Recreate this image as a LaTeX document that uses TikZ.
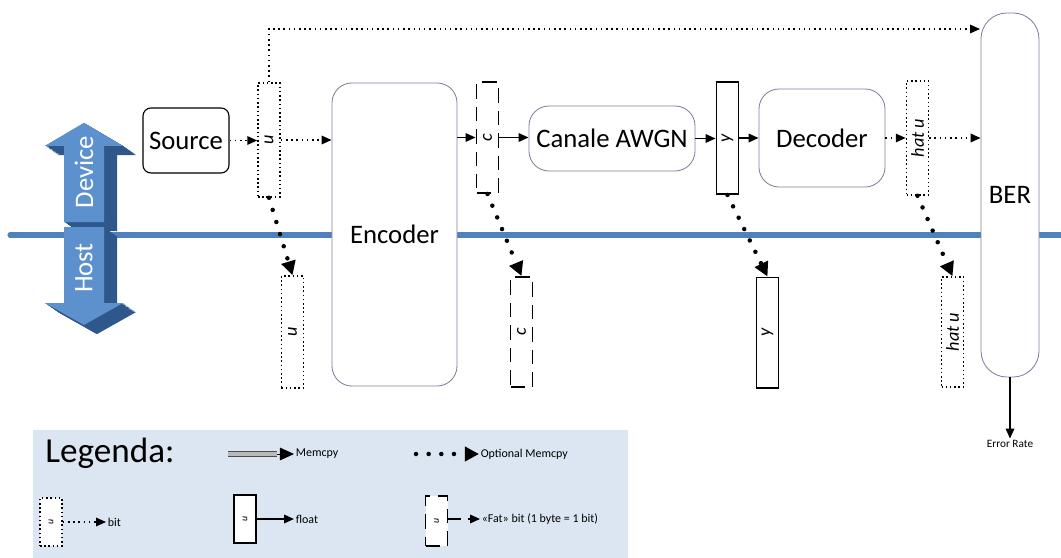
\documentclass[tikz,border=0pt]{standalone}
\usepackage{fontspec}
\setmainfont{Carlito}
\usepackage{graphicx}
\usetikzlibrary{arrows.meta,positioning}

\definecolor{lineblue}{RGB}{79,129,189}
\definecolor{arrowfront}{RGB}{93,145,206}
\definecolor{arrowdark}{RGB}{46,88,140}
\definecolor{boxgray}{RGB}{128,128,158}
\definecolor{legendbg}{RGB}{220,230,242}

\newcommand{\vlab}[1]{\rotatebox{90}{#1}}

\begin{document}
\begin{tikzpicture}[x=0.025cm,y=-0.025cm,>={Triangle[length=7pt,width=6pt]},
        semithick,
        blk/.style={draw=boxgray,fill=white,rounded corners=#1,inner sep=0pt,
          font=\fontsize{19}{22}\selectfont},
        bitbox/.style={draw,fill=white,line width=1.1pt,dash pattern=on 1.1pt off 1.9pt,
          minimum width=0.55cm,inner sep=0pt,font=\fontsize{13}{15}\selectfont\itshape},
        floatbox/.style={bitbox,solid,line width=1.4pt},
        fatbox/.style={bitbox,line width=1.4pt,dash pattern=on 10pt off 6pt},
        arr/.style={->,line width=1.2pt},
        dotarrow/.style={->,line width=1.1pt,dash pattern=on 1.1pt off 2.6pt},
        fatarrow/.style={->,line width=1.2pt,dash pattern=on 9pt off 5pt},
        optcopy/.style={-{Triangle[length=10pt,width=10pt]},line width=3.2pt,
          line cap=round,dash pattern=on 0pt off 9pt},
        memshaft/.style={draw=gray!60!black,double=gray!55,double distance=2.4pt,line width=0.7pt},
        small/.style={font=\fontsize{8.5}{10}\selectfont,inner sep=1pt}]
      \useasboundingbox (0,0) rectangle (1061,558);

      % device / host border
      \coordinate (hl) at (10,235);
      \coordinate (hr) at (1065,235);
      \draw[lineblue,line width=3.6pt,line cap=round] (hl) -- (hr);

      % 3d double arrow
      \foreach \s in {0,1,...,13} {
        \fill[arrowdark,shift={(\s,0.7*\s)}] (84,123) -- (45,146) -- (64,146) -- (64,222)
          -- (104,222) -- (104,146) -- (123,146) -- cycle;
        \fill[arrowdark,shift={(\s,0.7*\s)}] (64,227) -- (104,227) -- (104,303)
          -- (123,303) -- (84,325) -- (45,303) -- (64,303) -- cycle;
      }
      \fill[arrowfront] (84,123) -- (45,146) -- (64,146) -- (64,222)
        -- (104,222) -- (104,146) -- (123,146) -- cycle;
      \fill[arrowfront] (64,227) -- (104,227) -- (104,303)
        -- (123,303) -- (84,325) -- (45,303) -- (64,303) -- cycle;
      \node[white,rotate=90,font=\fontsize{19}{22}\selectfont] (devlab) at (84,172) {Device};
      \node[white,rotate=90,font=\fontsize{19}{22}\selectfont] (hostlab) at (84,268) {Host};

      % blocks
      \node[blk=0.2cm,draw=black,line width=0.8pt,minimum width=2.15cm,minimum height=1.625cm]
        (src) at (186,140.5) {Source};
      \node[blk=0.5cm,minimum width=3.125cm,minimum height=7.575cm] (enc) at (394.5,234.5) {Encoder};
      \node[blk=0.5cm,minimum width=4.15cm,minimum height=1.625cm] (awgn) at (612,138.5) {Canale AWGN};
      \node[blk=0.5cm,minimum width=3.15cm,minimum height=2.45cm] (dec) at (822,138) {Decoder};
      \node[blk=0.65cm,minimum width=1.45cm,minimum height=9.1cm] (ber) at (1010,195) {BER};

      % data on the device
      \node[bitbox,minimum height=2.85cm] (udev) at (269,140) {\vlab{u}};
      \node[fatbox,minimum height=2.775cm] (cdev) at (487.5,137.5) {\vlab{c}};
      \node[floatbox,minimum height=2.8cm] (ydev) at (727.5,138) {\vlab{y}};
      \node[bitbox,minimum height=2.85cm] (hudev) at (917.5,138) {\vlab{hat u}};

      % data on the host
      \node[bitbox,minimum height=2.8cm] (uhost) at (292.5,332) {\vlab{u}};
      \node[fatbox,minimum height=2.75cm] (chost) at (521.5,332) {\vlab{c}};
      \node[floatbox,minimum height=2.75cm] (yhost) at (767.5,332.5) {\vlab{y}};
      \node[bitbox,minimum height=2.75cm] (huhost) at (952.5,332) {\vlab{hat u}};

      \node[font=\fontsize{8}{9}\selectfont,inner sep=1pt] (err) at (1010,444) {Error Rate};
      \coordinate (berin) at (980,29);

      % chain
      \draw[dotarrow] (src.east) -- (src.east -| udev.west);
      \draw[dotarrow] (udev.east) -- (udev.east -| enc.west);
      \draw[arr] (enc.east |- cdev.west) -- (cdev.west);
      \draw[arr] (cdev.east) -- (cdev.east -| awgn.west);
      \draw[arr] (awgn.east) -- (awgn.east -| ydev.west);
      \draw[arr] (ydev.east) -- (ydev.east -| dec.west);
      \draw[dotarrow] (dec.east) -- (dec.east -| hudev.west);
      \draw[dotarrow] (hudev.east) -- (hudev.east -| ber.west);
      \draw[dotarrow] (udev.north) |- (berin);
      \draw[arr] (ber.south) -- (err.north);

      % optional copies to the host
      \draw[optcopy] (udev.south) -- (uhost.north);
      \draw[optcopy] (cdev.south) -- (chost.north);
      \draw[optcopy] (ydev.south) -- (yhost.north);
      \draw[optcopy] (hudev.south) -- (huhost.north);

      % legend
      \fill[legendbg] (33,430) rectangle (628,560);
      \node[anchor=west,font=\fontsize{25}{30}\selectfont,inner sep=0pt] (legt) at (45,453) {Legenda:};
      \coordinate (mema) at (228,454);
      \coordinate (memb) at (277,454);
      \node[small,anchor=west] (memt) at (294,454) {Memcpy};
      \draw[memshaft] (mema) -- (memb);
      \draw[-{Triangle[length=10pt,width=9pt]},line width=0.6pt] (memb) -- (memt.west);
      \coordinate (opta) at (416,454);
      \node[small,anchor=west] (optt) at (479,454) {Optional Memcpy};
      \draw[optcopy] (opta) -- (optt.west);

      \node[bitbox,minimum height=1.2cm,font=\fontsize{7}{8}\selectfont\itshape] (lgbit) at (51,522) {\vlab{u}};
      \node[small,anchor=west] (lgbitt) at (106,522) {bit};
      \draw[dotarrow] (lgbit.east) -- (lgbitt.west);
      \node[floatbox,minimum height=1.2cm,font=\fontsize{7}{8}\selectfont\itshape] (lgfloat) at (245,519) {\vlab{u}};
      \node[small,anchor=west] (lgfloatt) at (294,519) {float};
      \draw[arr] (lgfloat.east) -- (lgfloatt.west);
      \node[fatbox,minimum height=1.25cm,font=\fontsize{7}{8}\selectfont\itshape] (lgfat) at (436.5,521) {\vlab{u}};
      \node[small,anchor=west] (lgfatt) at (480,519) {«Fat» bit (1 byte = 1 bit)};
      \draw[fatarrow] (lgfat.east |- lgfatt.west) -- (lgfatt.west);
    \end{tikzpicture}
\end{document}
